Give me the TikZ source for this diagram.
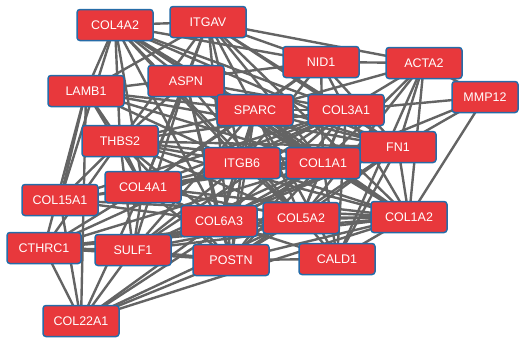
\documentclass[tikz,border=0pt]{standalone}
\usepackage{fontspec}
\setmainfont{Liberation Sans}
\pgfdeclarelayer{bg}
\pgfsetlayers{bg,main}
\definecolor{boxred}{RGB}{232,56,60}
\definecolor{boxblue}{RGB}{38,108,168}
\definecolor{edgegray}{RGB}{100,100,100}
\tikzset{
  gene/.style={draw=boxblue, line width=1.5pt, fill=boxred, rounded corners=3pt,
    minimum width=76pt, minimum height=31pt, inner sep=0pt, text=white,
    font=\fontsize{12.5}{14}\selectfont},
  link/.style={draw=edgegray, line width=2.4pt}
}
\begin{document}
\begin{tikzpicture}[x=1pt,y=-1pt]
\useasboundingbox (0,0) rectangle (520,341);
\node[gene] (c4a2) at (115,25) {COL4A2};
\node[gene] (itgav) at (208,22) {ITGAV};
\node[gene] (lamb1) at (86,91) {LAMB1};
\node[gene] (aspn) at (186,81) {ASPN};
\node[gene] (thbs2) at (120,141) {THBS2};
\node[gene] (sparc) at (255,110) {SPARC};
\node[gene] (itgb6) at (242,163) {ITGB6};
\node[gene] (nid1) at (321,62) {NID1};
\node[gene] (acta2) at (424,63) {ACTA2};
\node[gene, minimum width=66pt] (mmp12) at (485,97) {MMP12};
\node[gene] (c3a1) at (346,110) {COL3A1};
\node[gene] (fn1) at (398,147) {FN1};
\node[gene, minimum width=74pt] (c1a1) at (323,163) {COL1A1};
\node[gene] (c15a1) at (60,200) {COL15A1};
\node[gene] (c4a1) at (143,187) {COL4A1};
\node[gene] (c6a3) at (219,221) {COL6A3};
\node[gene, minimum width=74pt] (cthrc1) at (44,248) {CTHRC1};
\node[gene] (sulf1) at (133,250) {SULF1};
\node[gene] (postn) at (231,260) {POSTN};
\node[gene] (c22a1) at (81,321) {COL22A1};
\node[gene] (c5a2) at (301,218) {COL5A2};
\node[gene] (c1a2) at (409,217) {COL1A2};
\node[gene] (cald1) at (337,259) {CALD1};
\begin{pgfonlayer}{bg}
\foreach \a/\bl in {
  c4a2/{itgav,lamb1,aspn,thbs2,sparc,nid1,c3a1,c1a1,c4a1,c15a1,c6a3,itgb6,fn1,c1a2,c5a2},
  itgav/{lamb1,aspn,thbs2,sparc,nid1,c3a1,c1a1,fn1,itgb6,c4a1,postn,c1a2,acta2},
  lamb1/{nid1,c4a1,sparc,thbs2,c15a1,fn1,c1a1,itgb6,cthrc1,c22a1},
  aspn/{thbs2,sparc,c1a1,c1a2,c3a1,postn,c5a2,fn1,c6a3,c4a1,sulf1},
  thbs2/{sparc,itgb6,c1a1,c1a2,c3a1,c5a2,fn1,postn,c6a3,c4a1,c15a1,sulf1,cthrc1},
  sparc/{c3a1,c1a1,c1a2,fn1,postn,c5a2,c6a3,itgb6,c4a1,sulf1,nid1,cald1,acta2},
  itgb6/{c1a1,c3a1,fn1,c1a2,postn,c5a2,c6a3,c4a1,sulf1,nid1},
  nid1/{c3a1,acta2,c1a1,fn1,c4a1},
  acta2/{mmp12,fn1,c1a1,c1a2,c3a1,cald1,c5a2},
  mmp12/{fn1,c1a1,c3a1,c1a2},
  c3a1/{c1a1,fn1,c1a2,c5a2,postn,c6a3,c4a1,sulf1,cthrc1,c15a1,cald1},
  fn1/{c1a1,c1a2,c5a2,postn,c6a3,c4a1,sulf1,cald1},
  c1a1/{c1a2,c5a2,postn,c6a3,c4a1,sulf1,cthrc1,c15a1,c22a1,cald1},
  c15a1/{c4a1,c22a1,c6a3,c1a2},
  c4a1/{c6a3,sulf1,postn,c5a2,c1a2,c22a1,cthrc1},
  c6a3/{postn,c5a2,c1a2,sulf1,c22a1,cald1},
  cthrc1/{sulf1,c22a1,c5a2,c1a2,postn},
  sulf1/{postn,c5a2,c1a2,c22a1},
  postn/{c5a2,c1a2,cald1,c22a1},
  c22a1/{c5a2,c1a2},
  c5a2/{c1a2,cald1},
  c1a2/{cald1}}
  { \foreach \b in \bl { \draw[link] (\a.center) -- (\b.center); } }
\end{pgfonlayer}
\end{tikzpicture}
\end{document}
